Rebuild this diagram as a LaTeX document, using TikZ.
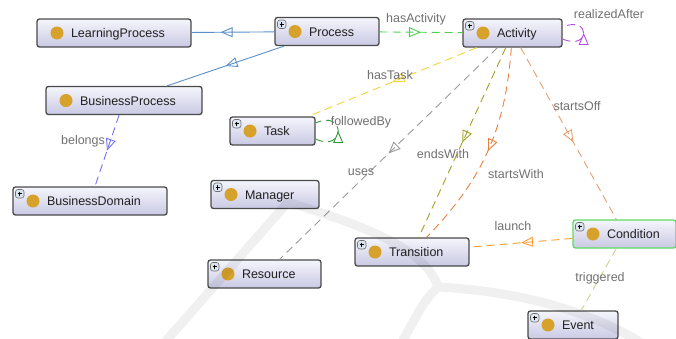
\documentclass[tikz,border=0pt]{standalone}
\usepackage{fontspec}
\setmainfont{Liberation Sans}
\usetikzlibrary{calc,
	positioning,
	arrows.meta,
	decorations.markings}
\definecolor{boxtop}{HTML}{F5F5FC}
\definecolor{boxbot}{HTML}{C9C9E4}
\definecolor{boxline}{HTML}{4A4A4A}
\definecolor{gold}{HTML}{D6A22C}
\definecolor{plusfill}{HTML}{DCE6F0}
\definecolor{condline}{HTML}{5EDC5E}
\definecolor{txt}{HTML}{202020}
\definecolor{lblgray}{HTML}{707070}
\definecolor{subblue}{HTML}{5B8FC9}
\definecolor{actgreen}{HTML}{4CCF4C}
\definecolor{purp}{HTML}{B050E6}
\definecolor{taskyellow}{HTML}{F5D430}
\definecolor{darkgreen}{HTML}{30993A}
\definecolor{usegray}{HTML}{9A9A9A}
\definecolor{olivegreen}{HTML}{A0A028}
\definecolor{darkorange}{HTML}{E8803C}
\definecolor{paleorange}{HTML}{E6A070}
\definecolor{brightorange}{HTML}{FF9A30}
\definecolor{paleolive}{HTML}{D2D28A}
\definecolor{violetblue}{HTML}{7070F5}
\newcommand{\clsfont}{\fontsize{12.5}{14}\selectfont}
\newcommand{\ball}{\fill[gold] ([xshift=20pt]path picture bounding box.west) circle (6.5pt);}
\newcommand{\plusicon}{%
	\draw[boxline!80, fill=plusfill, line width=0.6pt] ([shift={(2.5pt,-2.5pt)}]path picture bounding box.north west) rectangle +(8.5pt,-8.5pt);
	\draw[black, line width=0.8pt] ([shift={(4.5pt,-6.75pt)}]path picture bounding box.north west) -- +(4.5pt,0pt);
	\draw[black, line width=0.8pt] ([shift={(6.75pt,-4.5pt)}]path picture bounding box.north west) -- +(0pt,-4.5pt);}

\begin{document}
\begin{tikzpicture}[x=1pt, y=-1pt,
	cls/.style={draw=boxline, line width=1.3pt, rounded corners=2.5pt,
		top color=boxtop, bottom color=boxbot, minimum height=28pt,
		inner sep=0pt, text width=#1, align=left, text height=9pt, text depth=0pt,
		font=\clsfont, text=txt, path picture={\ball}},
	clsplus/.style={cls=#1, path picture={\ball\plusicon}},
	lbl/.style={font=\clsfont, text=lblgray, inner sep=0pt, text height=9pt, text depth=2pt},
	link/.style={line width=0.9pt, dash pattern=on 8pt off 5pt},
	midtip/.style={postaction={decorate}, decoration={markings,
		mark=at position #1 with {\arrow[line width=0.9pt]{Triangle[open, length=12pt, width=10pt]}}}},
	midtip/.default=0.5,
	subclass/.style={subblue, line width=0.9pt},
	hasactivity/.style={link, color=actgreen},
	realizedafter/.style={link, color=purp},
	hastask/.style={link, color=taskyellow},
	followedby/.style={link, color=darkgreen},
	usesedge/.style={link, color=usegray},
	endswith/.style={link, color=olivegreen},
	startswith/.style={link, color=darkorange},
	startsoff/.style={link, color=paleorange},
	launchedge/.style={link, color=brightorange},
	triggered/.style={link, color=paleolive},
	belongsedge/.style={link, color=violetblue},
	wmark/.style={line width=9pt, black, opacity=0.06, line cap=round, line join=round}]
	\useasboundingbox (0,0) rectangle (676,338);

	% classes
	\node[cls=154pt] (learn) at (114,33) {\hspace*{34pt}LearningProcess};
	\node[clsplus=104pt] (proc) at (327,31.5) {\hspace*{34pt}Process};
	\node[clsplus=99pt] (act) at (512.5,33) {\hspace*{34pt}Activity};
	\node[cls=156pt] (busp) at (124,100.5) {\hspace*{34pt}BusinessProcess};
	\node[clsplus=85pt] (task) at (272.5,131) {\hspace*{34pt}Task};
	\node[clsplus=154pt] (bdom) at (90,201) {\hspace*{34pt}BusinessDomain};
	\node[clsplus=108pt] (mgr) at (265,194.5) {\hspace*{34pt}Manager};
	\node[clsplus=113pt] (res) at (264.5,274) {\hspace*{34pt}Resource};
	\node[clsplus=114pt] (trans) at (412,252) {\hspace*{34pt}Transition};
	\node[clsplus=103pt, draw=condline] (cond) at (624.5,234) {\hspace*{34pt}Condition};
	\node[clsplus=90pt] (event) at (573,325) {\hspace*{34pt}Event};

	% subclass links
	\draw[subclass, midtip=0.65] (proc) -- (learn);
	\draw[subclass, midtip] (proc) -- (busp);

	% object properties
	\draw[hasactivity, midtip] (proc) -- (act);
	\draw[hastask, midtip] (act) -- (task);
	\draw[usesedge, midtip] (act) -- (res);
	\draw[endswith, midtip] (act) -- (trans);
	\draw[startswith, midtip] (act) to[bend left=20] (trans);
	\draw[startsoff, midtip=0.55] (act) -- (cond);
	\draw[launchedge, midtip] (cond) -- (trans);
	\draw[triggered] (cond) -- (event);
	\draw[belongsedge, midtip] (busp) -- (bdom);
	\draw[realizedafter, midtip] ([yshift=-6pt]act.east) .. controls +(28,12) and +(28,-12) .. ([yshift=6pt]act.east);
	\draw[followedby, midtip] ([yshift=-8pt]task.east) .. controls +(30,14) and +(30,-14) .. ([yshift=8pt]task.east);

	% property names
	\node[lbl] (l-hasact) at (416,19) {hasActivity};
	\node[lbl] (l-realized) at (609,15) {realizedAfter};
	\node[lbl] (l-hastask) at (390,76) {hasTask};
	\node[lbl] (l-followed) at (361,122) {followedBy};
	\node[lbl] (l-uses) at (361,172) {uses};
	\node[lbl] (l-ends) at (443,155) {endsWith};
	\node[lbl] (l-starts) at (516,175) {startsWith};
	\node[lbl] (l-startsoff) at (577,107) {startsOff};
	\node[lbl] (l-launch) at (513,227) {launch};
	\node[lbl] (l-trig) at (600,278) {triggered};
	\node[lbl] (l-belongs) at (83,141) {belongs};

	% faint watermark
	\draw[wmark] (165,342) -- (288,202) .. controls (350,222) and (425,245) .. (438,287)
		.. controls (490,290) and (570,300) .. (640,342)
		(438,287) .. controls (425,300) .. (402,342);
\end{tikzpicture}
\end{document}
